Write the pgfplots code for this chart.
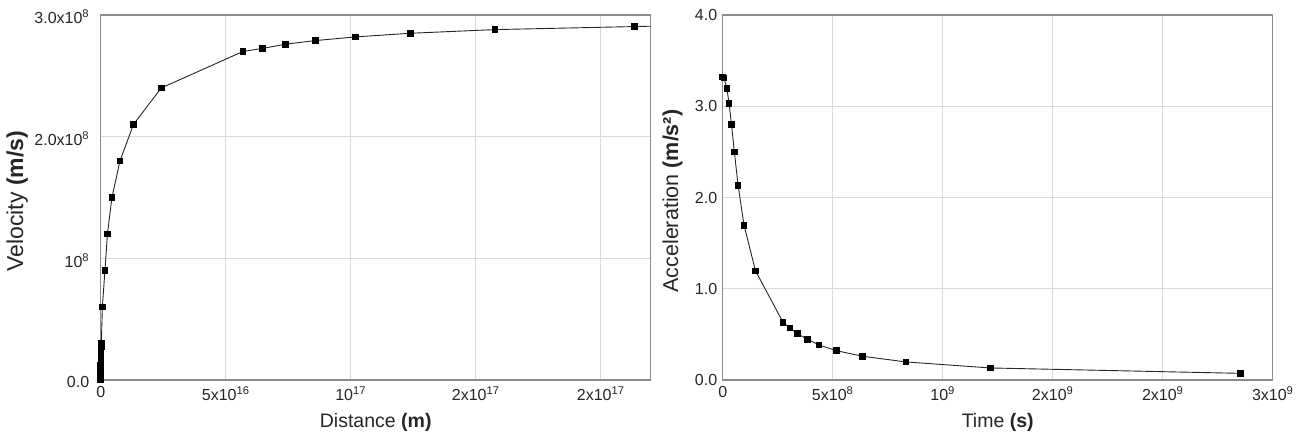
\documentclass[border=0pt]{standalone}
\usepackage{fontspec}
\setmainfont{Liberation Sans}
\usepackage{pgfplots}
\pgfplotsset{compat=1.18}
\definecolor{framegray}{HTML}{8C8C8C}
\definecolor{gridgray}{HTML}{D9D9D9}
\pgfplotsset{
  myaxis/.style={
    scale only axis,
    width=550bp, height=365bp,
    axis line style={framegray, line width=1.2bp},
    grid=major,
    major grid style={gridgray, line width=0.8bp},
    major tick length=0pt,
    scaled x ticks=false, scaled y ticks=false,
    tick label style={font=\fontsize{16bp}{18bp}\selectfont, color=black!85},
    label style={font=\fontsize{19.5bp}{22bp}\selectfont, color=black!85},
    xticklabel style={yshift=-3bp},
    clip=true,
  },
  myline/.style={black!85, line width=0.9bp, mark=square*, mark size=2.8bp, mark options={black}},
}
\begin{document}
\begin{tikzpicture}
\useasboundingbox (0,0) rectangle (1304bp,436bp);
% Left panel
\begin{axis}[myaxis,
  at={(100.7bp,56bp)}, anchor=south west,
  xmin=0, xmax=2.2e17, ymin=0, ymax=3e8,
  xtick={0,5e16,1e17,1.5e17,2e17},
  xticklabels={0, 5x10\textsuperscript{16}, 10\textsuperscript{17}, 2x10\textsuperscript{17}, 2x10\textsuperscript{17}},
  ytick={0,1e8,2e8,3e8},
  yticklabels={0.0, 10\textsuperscript{8}, 2.0x10\textsuperscript{8}, 3.0x10\textsuperscript{8}},
  yticklabel style={xshift=-8bp, yshift=-2bp},
  xlabel={Distance \textbf{(m)}},
  ylabel={Velocity \textbf{(m/s)}},
  xlabel style={at={(axis description cs:0.5,-0.115)}, anchor=center},
  ylabel style={at={(axis description cs:-0.152,0.49)}, anchor=center, font=\fontsize{23bp}{26bp}\selectfont},
]
\addplot[myline] coordinates {
(0,0) (2e12,0.3e7) (5e12,0.6e7) (1e13,0.9e7) (2e13,1.2e7) (4e13,1.5e7)
(7e13,1.8e7) (1e14,2.1e7) (1.5e14,2.4e7) (2e14,2.7e7) (2.5e14,3.0e7)
(6.7e14,6.0e7) (1.7e15,9.0e7) (2.7e15,1.2e8) (4.5e15,1.5e8) (7.7e15,1.8e8)
(1.31e16,2.1e8) (2.42e16,2.4e8) (5.69e16,2.70e8) (6.46e16,2.725e8)
(7.39e16,2.76e8) (8.60e16,2.79e8) (1.02e17,2.82e8) (1.24e17,2.85e8)
(1.577e17,2.88e8) (2.136e17,2.905e8) (2.6e17,2.925e8)
};
\end{axis}
% Right panel
\begin{axis}[myaxis,
  at={(722.7bp,56bp)}, anchor=south west,
  xmin=0, xmax=2.5e9, ymin=0, ymax=4,
  xtick={0,5e8,1e9,1.5e9,2e9,2.5e9},
  xticklabels={0, 5x10\textsuperscript{8}, 10\textsuperscript{9}, 2x10\textsuperscript{9}, 2x10\textsuperscript{9}, 3x10\textsuperscript{9}},
  ytick={0,1,2,3,4},
  yticklabels={0.0,1.0,2.0,3.0,4.0},
  yticklabel style={xshift=-2bp},
  xlabel={Time \textbf{(s)}},
  ylabel={Acceleration \textbf{(m/s²)}},
  xlabel style={at={(axis description cs:0.5,-0.115)}, anchor=center},
  ylabel style={at={(axis description cs:-0.091,0.49)}, anchor=center, font=\fontsize{21.5bp}{24bp}\selectfont},
]
\addplot[myline] coordinates {
(0,3.32) (0.6e7,3.31) (1.9e7,3.195) (2.9e7,3.03) (4.0e7,2.80) (5.3e7,2.50)
(7.0e7,2.13) (9.7e7,1.695) (1.49e8,1.197) (2.74e8,0.633) (3.05e8,0.571)
(3.39e8,0.509) (3.85e8,0.447) (4.38e8,0.384) (5.16e8,0.322) (6.35e8,0.26)
(8.33e8,0.198) (1.216e9,0.132) (2.353e9,0.073)
};
\end{axis}
\end{tikzpicture}
\end{document}
